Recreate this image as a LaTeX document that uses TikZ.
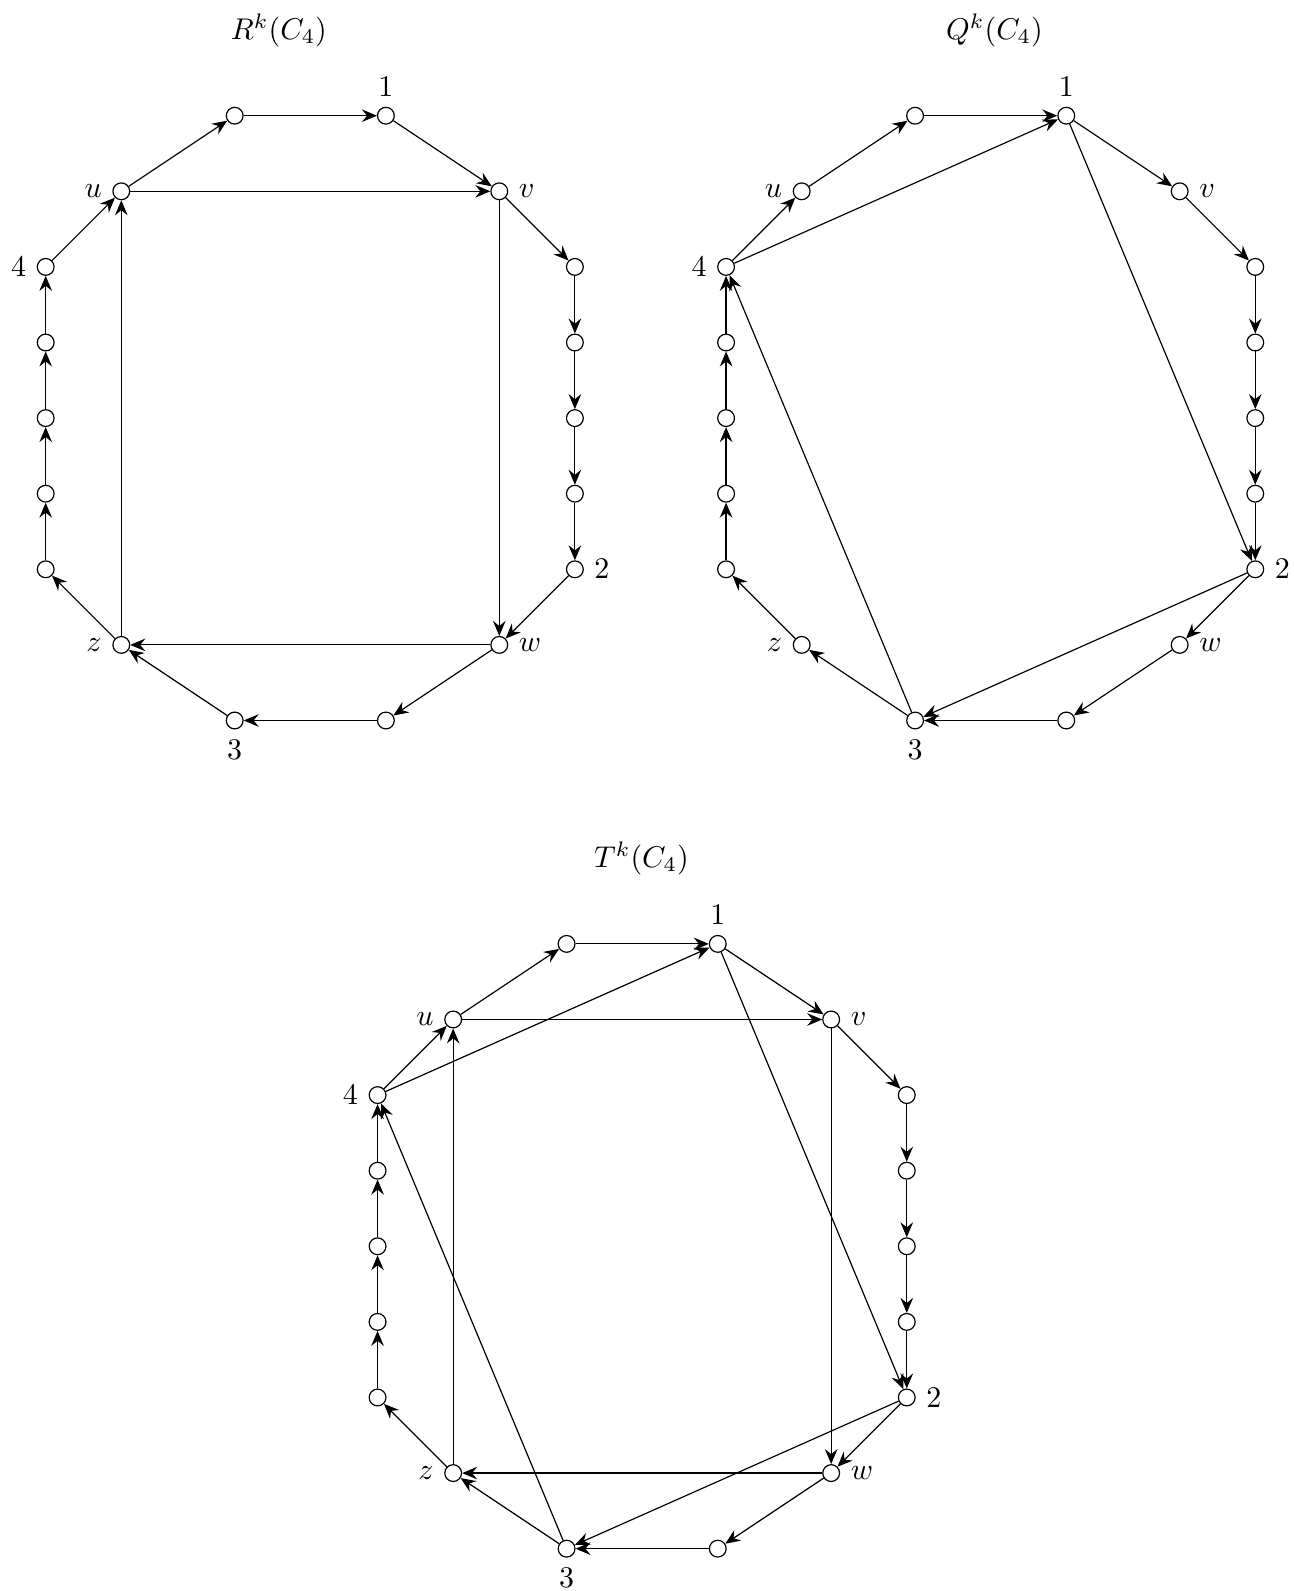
\documentclass[tikz,border=0pt]{standalone}
\usetikzlibrary{arrows.meta}
\tikzset{
  vtx/.style={circle,draw,fill=white,inner sep=0pt,minimum size=5.6pt},
  arc/.style={-{Stealth[length=5pt,width=4.2pt,inset=1.7pt]}},
  ttl/.style={inner sep=0pt}
}
\newcommand{\basecycle}[3]{%
 \begin{scope}[shift={(#2,#3)}]
  \node[vtx] (#1a) at (5,0) {};
  \node[vtx,label=above:$1$] (#1one) at (9,0) {};
  \node[vtx,label=right:$v$] (#1v) at (12,-2) {};
  \node[vtx] (#1r1) at (14,-4) {};
  \node[vtx] (#1r2) at (14,-6) {};
  \node[vtx] (#1r3) at (14,-8) {};
  \node[vtx] (#1r4) at (14,-10) {};
  \node[vtx,label=right:$2$] (#1two) at (14,-12) {};
  \node[vtx,label=right:$w$] (#1w) at (12,-14) {};
  \node[vtx] (#1b) at (9,-16) {};
  \node[vtx,label=below:$3$] (#1three) at (5,-16) {};
  \node[vtx,label=left:$z$] (#1z) at (2,-14) {};
  \node[vtx] (#1l1) at (0,-12) {};
  \node[vtx] (#1l2) at (0,-10) {};
  \node[vtx] (#1l3) at (0,-8) {};
  \node[vtx] (#1l4) at (0,-6) {};
  \node[vtx,label=left:$4$] (#1four) at (0,-4) {};
  \node[vtx,label=left:$u$] (#1u) at (2,-2) {};
 \end{scope}
 \draw[arc] (#1four) -- (#1u);
 \draw[arc] (#1u) -- (#1a);
 \draw[arc] (#1a) -- (#1one);
 \draw[arc] (#1one) -- (#1v);
 \draw[arc] (#1v) -- (#1r1);
 \draw[arc] (#1r1) -- (#1r2);
 \draw[arc] (#1r2) -- (#1r3);
 \draw[arc] (#1r3) -- (#1r4);
 \draw[arc] (#1r4) -- (#1two);
 \draw[arc] (#1two) -- (#1w);
 \draw[arc] (#1w) -- (#1b);
 \draw[arc] (#1b) -- (#1three);
 \draw[arc] (#1three) -- (#1z);
 \draw[arc] (#1z) -- (#1l1);
 \draw[arc] (#1l1) -- (#1l2);
 \draw[arc] (#1l2) -- (#1l3);
 \draw[arc] (#1l3) -- (#1l4);
 \draw[arc] (#1l4) -- (#1four);
}
\newcommand{\rchords}[1]{%
 \draw[arc] (#1u) -- (#1v);
 \draw[arc] (#1v) -- (#1w);
 \draw[arc] (#1w) -- (#1z);
 \draw[arc] (#1z) -- (#1u);
}
\newcommand{\qchords}[1]{%
 \draw[arc] (#1four) -- (#1one);
 \draw[arc] (#1one) -- (#1two);
 \draw[arc] (#1two) -- (#1three);
 \draw[arc] (#1three) -- (#1four);
}
\begin{document}
\begin{tikzpicture}[x=0.443cm,y=0.443cm]
\useasboundingbox (-1.209,3.061) rectangle (33.02,-39.03);
\node[ttl] (titleR) at (6.17,2.26) {$R^k(C_4)$};
\node[ttl] (titleQ) at (25.10,2.26) {$Q^k(C_4)$};
\node[ttl] (titleT) at (15.76,-19.65) {$T^k(C_4)$};
\basecycle{R}{0}{0}
\rchords{R}
\basecycle{Q}{18}{0}
\qchords{Q}
\basecycle{T}{8.78}{-21.91}
\rchords{T}
\qchords{T}
\end{tikzpicture}
\end{document}
